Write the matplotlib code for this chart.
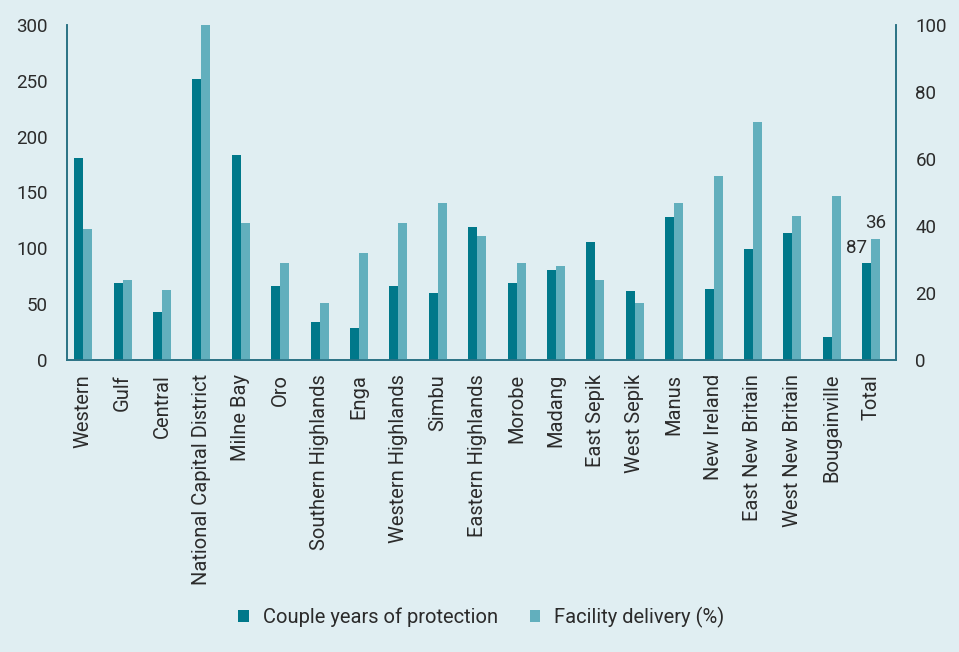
import numpy as np
import matplotlib.pyplot as plt

# provinces of PNG
provinces = ['Western', 'Gulf', 'Central', 'National Capital District', 'Milne Bay',
             'Oro', 'Southern Highlands', 'Enga', 'Western Highlands', 'Simbu',
             'Eastern Highlands', 'Morobe', 'Madang', 'East Sepik', 'West Sepik',
             'Manus', 'New Ireland', 'East New Britain', 'West New Britain',
             'Bougainville', 'Total']
cyp = [181, 69, 43, 252, 184, 66, 34, 29, 66, 60, 119, 69, 81, 106, 62,
       128, 64, 99, 114, 21, 87]
facility = [39, 24, 21, 100, 41, 29, 17, 32, 41, 47, 37, 29, 28, 24, 17,
            47, 55, 71, 43, 49, 36]

bg = '#e0eef2'
dark = '#00788a'
light = '#62afbd'
txt = '#2b2b2b'
fs = 13.5
fs_lab = 14.5

plt.rcParams['font.family'] = ['Roboto', 'DejaVu Sans']

fig = plt.figure(figsize=(9.59, 6.52), dpi=100, facecolor=bg)
ax = fig.add_axes([0.0699, 0.4479, 0.8644, 0.5138])
ax.set_facecolor(bg)
ax2 = ax.twinx()

x = np.arange(len(provinces))
w = 0.23
b1 = ax.bar(x - w / 2, cyp, width=w, color=dark, label='Couple years of protection')
b2 = ax2.bar(x + w / 2, facility, width=w, color=light, label='Facility delivery (%)')

ax.set_ylim(0, 300)
ax2.set_ylim(0, 100)
ax.set_xlim(-0.41, 20.63)
ax.set_yticks(range(0, 301, 50))
ax2.set_yticks(range(0, 101, 20))

for a in (ax, ax2):
    a.tick_params(length=0, labelsize=fs, labelcolor=txt)
    a.spines['top'].set_visible(False)
    for s in ('left', 'right', 'bottom'):
        a.spines[s].set_color('#2a7284')
        a.spines[s].set_linewidth(1.2)
ax.tick_params(axis='y', pad=14)
ax2.tick_params(axis='y', pad=14)
ax.tick_params(axis='x', pad=10)

ax.set_xticks(x)
ax.set_xticklabels(provinces, rotation=90, fontsize=fs_lab, color=txt)

# value labels on the Total bars
ax.annotate(str(cyp[-1]), (x[-1] - w / 2, cyp[-1]), xytext=(0, 4),
            textcoords='offset points', ha='right', va='bottom', fontsize=fs, color=txt)
ax2.annotate(str(facility[-1]), (x[-1] + w / 2, facility[-1]), xytext=(0, 5),
             textcoords='offset points', ha='center', va='bottom', fontsize=fs, color=txt)

fig.legend(handles=[b1, b2], loc='center', bbox_to_anchor=(0.502, 0.053), ncol=2,
           frameon=False, fontsize=fs_lab, handlelength=0.5, handleheight=0.5,
           handletextpad=0.7, columnspacing=1.6, labelcolor=txt)

fig.savefig('out.png', dpi=100, facecolor=bg)
